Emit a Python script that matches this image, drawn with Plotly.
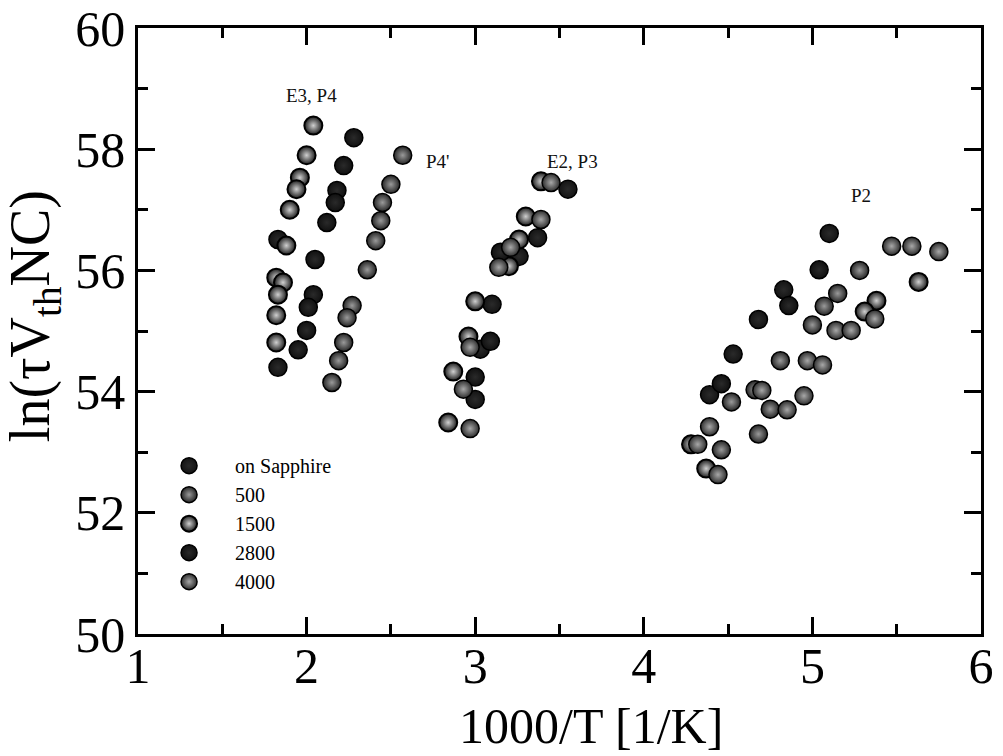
import plotly.graph_objects as go

# ---------------- data ----------------
sapphire_x = [1.83, 1.83, 3.55, 3.37, 3.26, 3.10, 3.03, 3.00, 5.10, 4.83, 4.68, 4.53, 4.39]
sapphire_y = [56.51, 54.40, 57.34, 56.54, 56.23, 55.44, 54.70, 53.87, 56.61, 55.68, 55.19, 54.62, 53.95]

s500_x = [2.57, 2.50, 2.45, 2.44, 2.41, 2.36, 2.27, 2.24, 2.22, 2.19, 2.15,
          5.28, 5.15, 5.07, 5.00, 4.81, 4.66, 4.75, 4.52, 4.46, 4.68]
s500_y = [57.90, 57.42, 57.12, 56.82, 56.49, 56.01, 55.42, 55.22, 54.81, 54.51, 54.15,
          56.00, 55.62, 55.41, 55.10, 54.51, 54.03, 53.71, 53.83, 53.04, 53.30]

s1500_x = [2.04, 2.00, 1.96, 1.94, 1.90, 1.88, 1.82, 1.86, 1.83, 1.82, 1.82,
           3.39, 3.30, 3.26, 3.20, 3.00, 2.96, 2.87, 2.84,
           5.38, 5.31, 5.63, 4.28, 4.37]
s1500_y = [58.39, 57.90, 57.53, 57.34, 57.00, 56.41, 55.88, 55.80, 55.60, 55.26, 54.81,
           57.47, 56.89, 56.51, 56.07, 55.49, 54.91, 54.33, 53.49,
           55.50, 55.32, 55.81, 53.13, 52.73]

s2800_x = [2.28, 2.22, 2.18, 2.17, 2.12, 2.05, 2.04, 2.01, 2.00, 1.95,
           3.15, 3.09, 3.00, 5.04, 4.86, 4.46]
s2800_y = [58.19, 57.73, 57.32, 57.12, 56.79, 56.18, 55.60, 55.39, 55.01, 54.69,
           56.30, 54.83, 54.24, 56.01, 55.42, 54.13]

s4000_x = [3.45, 3.39, 3.21, 3.14, 2.97, 2.93, 2.97,
           5.47, 5.59, 5.75, 5.37, 5.14, 5.23, 4.97, 5.06, 4.70, 4.85, 4.95, 4.39, 4.32, 4.44]
s4000_y = [57.45, 56.84, 56.38, 56.05, 54.73, 54.04, 53.39,
           56.40, 56.40, 56.31, 55.20, 55.01, 55.01, 54.51, 54.44, 54.02, 53.70, 53.93, 53.42, 53.13, 52.63]

series_names = ["on Sapphire", "500", "1500", "2800", "4000"]

labels_text = ["E3, P4", "P4'", "E2, P3", "P2"]
labels_x = [2.03, 2.78, 3.58, 5.29]
labels_y = [58.89, 57.79, 57.79, 57.24]

x_ticks = [1, 2, 3, 4, 5, 6]
y_ticks = [50, 52, 54, 56, 58, 60]

x_title = "1000/T [1/K]"
y_title = "ln(τV<sub>th</sub>NC)"

# ---------------- figure ----------------
SERIF = "Liberation Serif, Times New Roman, serif"

styles = [
    dict(color="#141414", line=dict(color="#000000", width=1.5),
         gradient=dict(type="radial", color="#2a2a2a")),
    dict(color="#262626", line=dict(color="#000000", width=1.5),
         gradient=dict(type="radial", color="#9a9a9a")),
    dict(color="#1e1e1e", line=dict(color="#000000", width=2),
         gradient=dict(type="radial", color="#d0d0d0")),
    dict(color="#101010", line=dict(color="#000000", width=1.5),
         gradient=dict(type="radial", color="#2a2a2a")),
    dict(color="#2e2e2e", line=dict(color="#000000", width=1.5),
         gradient=dict(type="radial", color="#a8a8a8")),
]
data_x = [sapphire_x, s500_x, s1500_x, s2800_x, s4000_x]
data_y = [sapphire_y, s500_y, s1500_y, s2800_y, s4000_y]

fig = go.Figure()
for name, xs, ys, st in zip(series_names, data_x, data_y, styles):
    fig.add_trace(go.Scatter(
        x=xs, y=ys, mode="markers", name=name,
        marker=dict(size=18, symbol="circle", **st),
    ))

for t, x, y in zip(labels_text, labels_x, labels_y):
    fig.add_annotation(x=x, y=y, text=t, showarrow=False,
                       font=dict(family=SERIF, size=19, color="#111"))

# axis titles as annotations (placed like the reference)
fig.add_annotation(xref="paper", yref="paper", x=0.537, y=-0.152, yanchor="middle",
                   text=x_title, showarrow=False,
                   font=dict(family=SERIF, size=50, color="#000"))
fig.add_annotation(xref="paper", yref="paper", x=-0.123, y=0.525, xanchor="center",
                   text=y_title, showarrow=False, textangle=-90,
                   font=dict(family=SERIF, size=56, color="#000"))

axis_common = dict(
    showline=True, linecolor="#000", linewidth=2.5, mirror="ticks",
    ticks="inside", ticklen=17, tickwidth=2.5, tickcolor="#000",
    showgrid=False, zeroline=False, automargin=False,
    tickfont=dict(family=SERIF, size=50, color="#000"),
)

fig.update_layout(
    width=1003, height=756,
    margin=dict(l=138, r=22, t=28, b=122),
    paper_bgcolor="white", plot_bgcolor="white",
    showlegend=True,
    legend=dict(x=0.006, y=0.31, xanchor="left", yanchor="top",
                font=dict(family=SERIF, size=20, color="#000"),
                bgcolor="rgba(0,0,0,0)", itemwidth=82, tracegroupgap=0),
    xaxis=dict(range=[1, 6], tickvals=x_ticks, ticktext=[str(v) for v in x_ticks],
               ticklabelstandoff=-14,
               minor=dict(ticks="inside", ticklen=10, tickwidth=2.5, tickcolor="#000", dtick=0.5),
               **axis_common),
    yaxis=dict(range=[50, 60], tickvals=y_ticks, ticktext=[str(v) for v in y_ticks],
               minor=dict(ticks="inside", ticklen=10, tickwidth=2.5, tickcolor="#000", dtick=1),
               **axis_common),
)

fig.write_html("out.html")
